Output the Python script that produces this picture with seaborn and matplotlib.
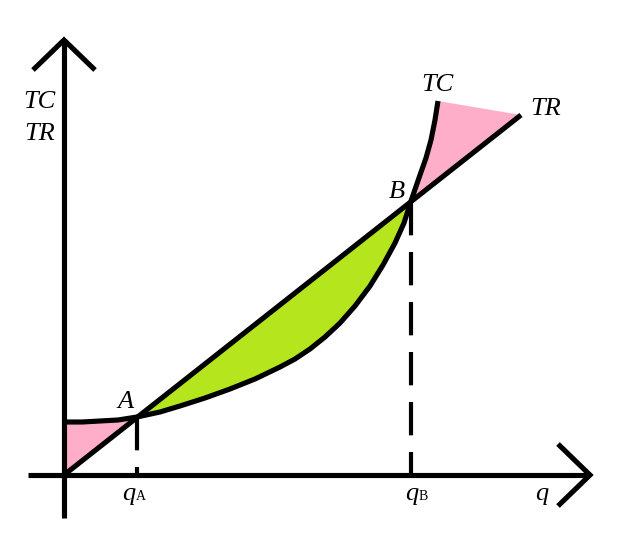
import numpy as np
import matplotlib
matplotlib.use("Agg")
import matplotlib.pyplot as plt
import seaborn as sns

# ---- data (origin at the axes' crossing) ----
q_tc = [0, 18, 36, 54, 73, 96, 116, 141, 166, 191, 216, 231, 246, 261, 276,
        291, 306, 319, 331, 340, 347, 356, 362, 367, 371, 374]
tc = [53, 53, 54, 55, 58, 63, 69, 77, 86, 96, 108, 116, 126, 138, 152,
      169, 189, 210, 232, 252, 274, 300, 317, 335, 355, 374]
q_tr = [0, 457]
tr = [0, 360]
q_a = 73
q_b = 347
axis_labels_y = ["TC", "TR"]
curve_labels = ["TC", "TR"]
point_labels = ["A", "B"]
x_label = "q"

PINK = "#FFAEC9"
GREEN = "#B5E61D"

sns.set_theme(style="white")
plt.rcParams["font.family"] = ["Liberation Serif", "DejaVu Serif"]

fig = plt.figure(figsize=(6.44, 5.40), dpi=100)
ax = fig.add_axes([0, 0, 1, 1])
ax.set_xlim(-64, 580)
ax.set_ylim(-65, 475)
ax.axis("off")

q_tc_a = np.array(q_tc, dtype=float)
tc_a = np.array(tc, dtype=float)
tr_at_tc = np.interp(q_tc_a, q_tr, tr)

# left pink: between TR and TC up to A
m1 = q_tc_a <= q_a
ax.fill_between(q_tc_a[m1], tr_at_tc[m1], tc_a[m1], color=PINK, lw=0, zorder=1)
# green: between TC and TR from A to B
m2 = (q_tc_a >= q_a) & (q_tc_a <= q_b)
ax.fill_between(q_tc_a[m2], tc_a[m2], tr_at_tc[m2], color=GREEN, lw=0, zorder=1)
# right pink: B -> TC top -> TR end -> B
m3 = q_tc_a >= q_b
px = np.concatenate([q_tc_a[m3], [q_tr[-1]]])
py = np.concatenate([tc_a[m3], [tr[-1]]])
ax.fill(px, py, color=PINK, lw=0, zorder=1)

LW = 3.7
# axes with arrow heads
ax.plot([0, 0], [-43, 433], color="black", lw=LW, solid_capstyle="butt", zorder=3)
ax.plot([-31, 0, 31], [405, 435, 405], color="black", lw=LW,
        solid_joinstyle="miter", solid_capstyle="butt", zorder=3)
ax.plot([-36, 524], [0, 0], color="black", lw=LW, solid_capstyle="butt", zorder=3)
ax.plot([494, 526, 494], [31, 0, -31], color="black", lw=LW,
        solid_joinstyle="miter", solid_capstyle="butt", zorder=3)

# curves
sns.lineplot(x=q_tc, y=tc, sort=False, estimator=None, color="black", lw=LW,
             ax=ax, zorder=4, legend=False)
sns.lineplot(x=q_tr, y=tr, sort=False, estimator=None, color="black", lw=LW,
             ax=ax, zorder=4, legend=False)
for line in ax.lines[-2:]:
    line.set_solid_capstyle("butt")
    line.set_solid_joinstyle("round")

# dashed guides
tr_a = float(np.interp(q_a, q_tr, tr))
tr_b = float(np.interp(q_b, q_tr, tr))
for qv, top in [(q_a, tr_a), (q_b, tr_b)]:
    ax.plot([qv, qv], [top, 0], color="black", lw=3.0, ls=(0, (8, 4)),
            dash_capstyle="butt", zorder=2)

FS = 19
kw = dict(fontsize=FS, style="italic", color="black", zorder=5)
# y axis label
ax.text(-25, 475 - 108, axis_labels_y[0], ha="center", va="baseline", **kw)
ax.text(-24, 475 - 140, axis_labels_y[1], ha="center", va="baseline", **kw)
# curve labels
ax.text(437 - 64, 475 - 91, curve_labels[0], ha="center", va="baseline", **kw)
ax.text(546 - 64, 475 - 115, curve_labels[1], ha="center", va="baseline", **kw)
# point labels
ax.text(126 - 64, 475 - 408, point_labels[0], ha="center", va="baseline", **kw)
ax.text(397 - 64, 475 - 198, point_labels[1], ha="center", va="baseline", **kw)
# q labels
ax.text(q_a - 2, 475 - 500, "q", ha="right", va="baseline", **kw)
ax.text(q_a - 1, 475 - 500, point_labels[0], ha="left", va="baseline",
        fontsize=10, color="black", zorder=5)
ax.text(q_b + 7, 475 - 500, "q", ha="right", va="baseline", **kw)
ax.text(q_b + 8, 475 - 500, point_labels[1], ha="left", va="baseline",
        fontsize=10, color="black", zorder=5)
ax.text(542 - 64, 475 - 500, x_label, ha="center", va="baseline", **kw)

fig.savefig("out.png", dpi=100)
